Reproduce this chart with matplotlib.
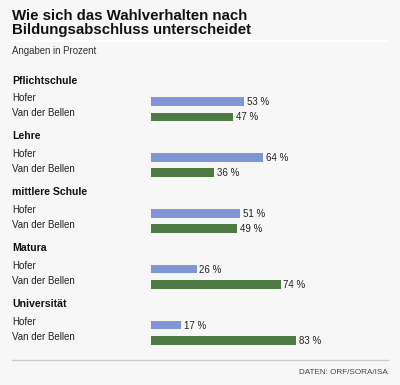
import matplotlib
matplotlib.use("Agg")
import matplotlib.pyplot as plt

categories = ["Pflichtschule", "Lehre", "mittlere Schule", "Matura", "Universität"]
candidates = ["Hofer", "Van der Bellen"]
hofer = [53, 64, 51, 26, 17]
vdb = [47, 36, 49, 74, 83]
colors = {"Hofer": "#8096d6", "Van der Bellen": "#4e7a44"}

plt.rcParams['font.family'] = ['Liberation Sans', 'DejaVu Sans']

W, H = 400, 385
fig = plt.figure(figsize=(W / 100, H / 100), dpi=100)
fig.patch.set_facecolor("#f7f7f7")

bg = fig.add_axes([0, 0, 1, 1])
bg.set_xlim(0, W)
bg.set_ylim(H, 0)
bg.axis("off")
bg.patch.set_alpha(0)

bg.text(12, 9.5, "Wie sich das Wahlverhalten nach\nBildungsabschluss unterscheidet",
        fontsize=10.8, fontweight="bold", va="top", ha="left", color="#111111",
        linespacing=0.98)
bg.plot([12, 388], [40.5, 40.5], color="white", lw=1.5)
bg.text(12, 50.5, "Angaben in Prozent", fontsize=6.9, va="center", ha="left", color="#333333")

x0, x1 = 151, 326
bax = fig.add_axes([x0 / W, 0, (x1 - x0) / W, 1])
bax.set_xlim(0, 100)
bax.set_ylim(H, 0)
bax.axis("off")
bax.patch.set_alpha(0)

group_start = 80.5
group_step = 55.9
for i, cat in enumerate(categories):
    gy = group_start + i * group_step
    bg.text(12, gy, cat, fontsize=7.6, fontweight="bold", va="center", ha="left", color="#111111")
    vals = [hofer[i], vdb[i]]
    for j, cand in enumerate(candidates):
        ly = gy + 17.5 + j * 15.3
        by = gy + 21 + j * 15.3
        bg.text(12, ly, cand, fontsize=7, va="center", ha="left", color="#222222")
        bax.barh(by, vals[j], height=8.5, color=colors[cand], linewidth=0)
        bax.text(vals[j] + 1.6, by + 0.5, f"{vals[j]} %", fontsize=7, va="center", ha="left",
                 color="#222222")

bg.plot([12, 388], [360, 360], color="#cccccc", lw=1)
bg.text(388, 372.5, "DATEN: ORF/SORA/ISA", fontsize=5.9, va="center", ha="right", color="#444444")

fig.savefig("out.png", dpi=100, facecolor=fig.get_facecolor())
